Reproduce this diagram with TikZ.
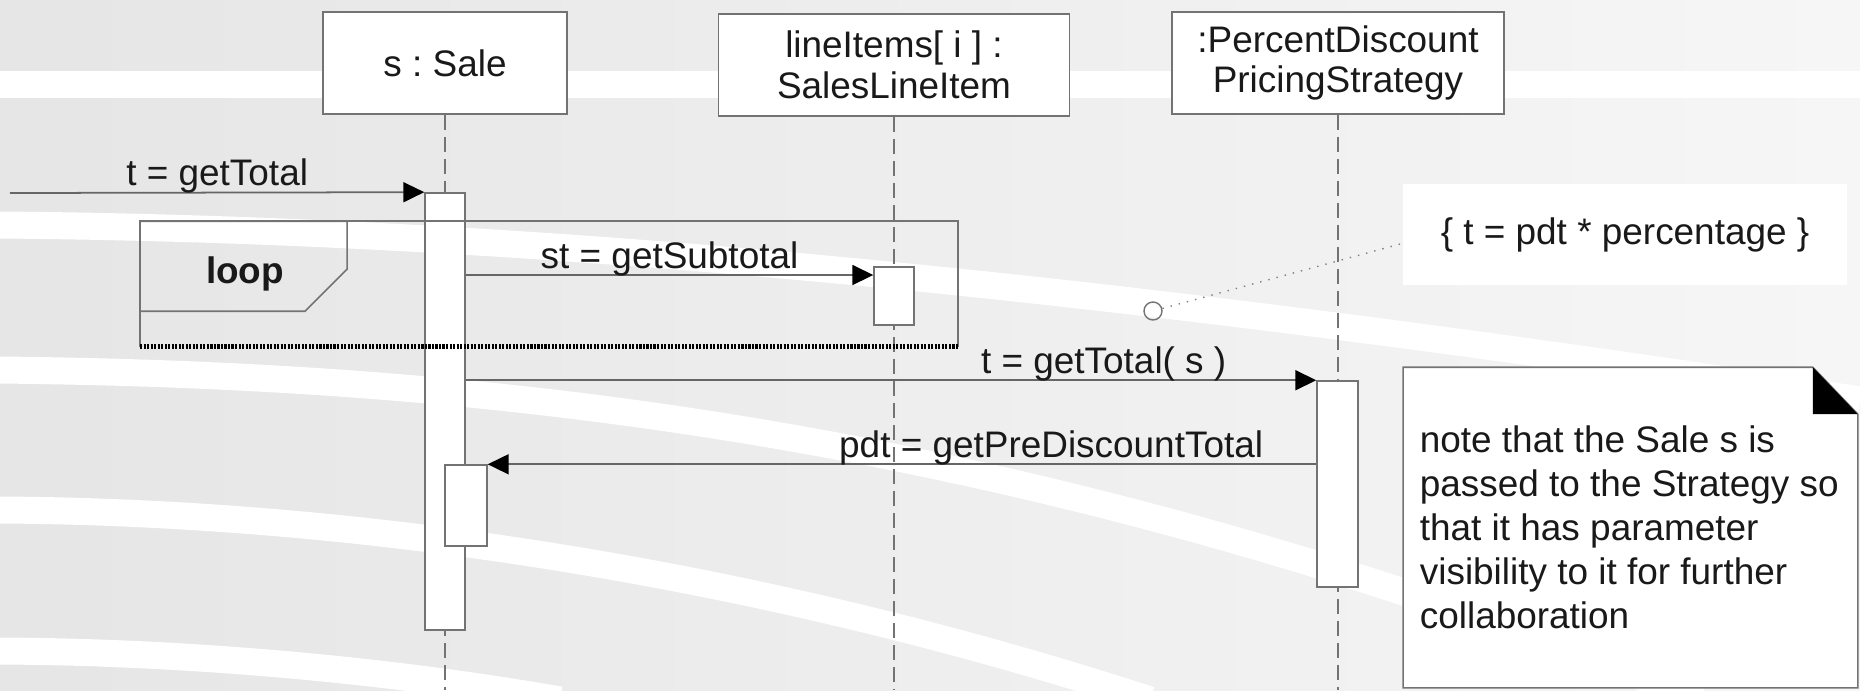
\documentclass[tikz,border=0pt]{standalone}
\usepackage{fontspec}
\setmainfont{Liberation Sans}
\usetikzlibrary{positioning,arrows.meta}
\frenchspacing
\tikzset{
  band/.style={white, line width=0.27cm},
  lifebox/.style={draw=black!55, fill=white, minimum height=1.02cm, inner sep=0pt, align=center, text=black!90, font=\fontsize{10.5}{11.5}\selectfont},
  actbar/.style={draw=black!55, fill=white, minimum width=0.4cm, inner sep=0pt},
  lifeline/.style={black!55, line width=0.5pt, dash pattern=on 0.15cm off 0.07cm},
  msgarrow/.style={-{Triangle[length=2.1mm, width=2mm, color=black]}, black!60, line width=0.5pt},
  msglabel/.style={anchor=base, yshift=0.07cm, inner sep=0pt, text=black!90, font=\fontsize{10.5}{12}\selectfont},
  framestroke/.style={black!55, line width=0.45pt},
  loopbottom/.style={black, line width=1.3pt, dash pattern=on 0.6pt off 0.4pt},
  constraint/.style={fill=white, minimum width=4.44cm, minimum height=1.01cm, text=black!90, font=\fontsize{10.5}{12}\selectfont},
  notebox/.style={minimum width=4.53cm, minimum height=3.19cm, inner sep=0pt},
  notetext/.style={align=left, anchor=west, inner sep=0pt, text=black!90, font=\fontsize{10.5}{12.5}\selectfont}
}
\begin{document}
\begin{tikzpicture}[x=0.01cm, y=-0.01cm]
  \useasboundingbox (0,0) rectangle (1860,690);
  \fill[left color=gray!20, right color=gray!7] (0,0) rectangle (1860,690);
  \draw[band] (0,84) -- (1860,84);
  \draw[band] (0,225) .. controls (600,230) and (1200,300) .. (1860,400);
  \draw[band] (0,370) .. controls (450,375) and (1000,420) .. (1700,700);
  \draw[band] (0,510) .. controls (350,512) and (750,570) .. (1150,700);
  \draw[band] (0,651) .. controls (200,652) and (400,672) .. (560,700);

  \node[lifebox, minimum width=2.44cm] (sale) at (445,63) {s : Sale};
  \node[lifebox, minimum width=3.51cm] (items) at (894,65) {lineItems[ i ] :\\SalesLineItem};
  \node[lifebox, minimum width=3.32cm] (strategy) at (1338,63) {:PercentDiscount\\PricingStrategy};
  \coordinate (saleEnd) at (445,690);
  \coordinate (itemsEnd) at (894,690);
  \coordinate (strategyEnd) at (1338,690);
  \draw[lifeline] (sale) -- (saleEnd);
  \draw[lifeline] (items) -- (itemsEnd);
  \draw[lifeline] (strategy) -- (strategyEnd);

  \node[actbar, minimum height=4.37cm] (actS) at (445,411.5) {};
  \node[actbar, minimum height=0.58cm] (actL) at (894,296) {};
  \node[actbar, minimum width=0.41cm, minimum height=2.06cm] (actP) at (1337.5,484) {};
  \node[actbar, minimum width=0.42cm, minimum height=0.81cm] (actN) at (466,505.5) {};

  \node[minimum width=8.16cm, minimum height=1.24cm, inner sep=0pt] (loop) at (549,284) {};
  \draw[framestroke] (loop.south west) -- (loop.north west) -- (loop.north east) -- (loop.south east);
  \draw[loopbottom] (loop.south west) -- (loop.south east);
  \draw[framestroke] (loop.north west) -- ++(207,0) -- ++(0,48) -- ++(-42,42) -- ++(-165,0);
  \node[font=\fontsize{10.5}{12}\selectfont\bfseries, text=black!90] (looplabel) at (245,274) {loop};

  \coordinate (caller) at (10,193);
  \coordinate (row2) at (0,275);
  \draw[msgarrow] (caller) -- (actS.north west) node[msglabel, pos=0.5] {t = getTotal};
  \draw[msgarrow] (actS.east |- row2) -- (actL.west |- row2) node[msglabel, pos=0.5] {st = getSubtotal};
  \draw[msgarrow] (actS.east |- actP.north) -- (actP.north west) node[msglabel, pos=0.75] {t = getTotal( s )};
  \draw[msgarrow] (actP.west |- actN.north) -- (actN.north east) node[msglabel, pos=0.32] {pdt = getPreDiscountTotal};

  \node[constraint] (cons) at (1625,234.5) {\{ t = pdt * percentage \}};
  \node[circle, draw=black!55, minimum size=0.18cm, inner sep=0pt] (pin) at (1153,311) {};
  \draw[black!50, dotted] (pin) -- ([yshift=-0.09cm]cons.west);

  \node[notebox] (note) at (1630.5,527.5) {};
  \draw[framestroke, fill=white] (note.south west) -- (note.north west) -- ([xshift=-0.45cm]note.north east) -- ([yshift=-0.47cm]note.north east) -- (note.south east) -- cycle;
  \fill[black] ([xshift=-0.45cm]note.north east) -- ([xshift=-0.45cm, yshift=-0.47cm]note.north east) -- ([yshift=-0.47cm]note.north east) -- cycle;
  \node[notetext] (notetxt) at ([xshift=0.16cm]note.west) {note that the Sale s is\\passed to the Strategy so\\that it has parameter\\visibility to it for further\\collaboration};
\end{tikzpicture}
\end{document}
